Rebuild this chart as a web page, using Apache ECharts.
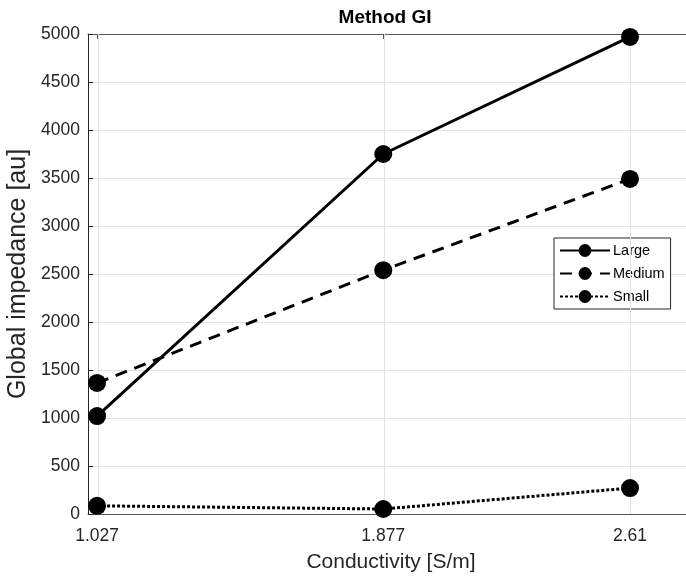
<!DOCTYPE html>
<html>
<head>
<meta charset="utf-8">
<script src="https://cdn.jsdelivr.net/npm/echarts@6/dist/echarts.min.js"></script>
<style>html,body{margin:0;padding:0;background:#fff}#c{width:686px;height:578px}</style>
</head>
<body>
<div id="c"></div>
<script>
const conductivity = [1.027, 1.877, 2.61];
const largeValues = [1020, 3750, 4970];
const mediumValues = [1365, 2540, 3490];
const smallValues = [85, 52, 270];
const seriesNames = ['Large', 'Medium', 'Small'];
const FONT = 'Liberation Sans, Arial, Helvetica, sans-serif';
const AX = '#262626';

const toPairs = vals => conductivity.map((x, i) => [x, vals[i]]);

const chart = echarts.init(document.getElementById('c'), null, {renderer: 'canvas'});
const lineSeries = (name, vals, type) => ({
  name, type: 'line', data: toPairs(vals), z: 5,
  symbol: 'circle', symbolSize: 18,
  itemStyle: {color: '#000'},
  lineStyle: {color: '#000', width: 3, type: type},
  animation: false
});
chart.setOption({
  animation: false,
  title: {
    text: 'Method GI', left: 380, top: 3, textAlign: 'center',
    textStyle: {fontFamily: FONT, fontSize: 19, fontWeight: 'bold', color: '#000'}
  },
  grid: {left: 88, top: 34, right: -8, bottom: 64, show: false, outerBoundsMode: 'none', containLabel: false},
  legend: {
    orient: 'vertical', left: 554, top: 238,
    data: seriesNames,
    backgroundColor: '#fff', borderColor: AX, borderWidth: 1,
    padding: [5, 6, 5, 5], itemGap: 8, itemWidth: 50, itemHeight: 16,
    textStyle: {fontFamily: FONT, fontSize: 14.5, color: '#000', padding: [0, 0, 0, -2]}
  },
  xAxis: [{
    type: 'value', min: 1, max: 2.8,
    name: 'Conductivity [S/m]', nameLocation: 'middle', nameGap: 38,
    nameTextStyle: {fontFamily: FONT, fontSize: 21, color: AX},
    axisLine: {show: true, lineStyle: {color: '#555', width: 1}},
    axisTick: {show: true, inside: true, length: 5, customValues: conductivity, lineStyle: {color: '#555'}},
    axisLabel: {customValues: conductivity, fontFamily: FONT, fontSize: 17.5, color: AX, margin: 13,
      formatter: v => String(v)},
    splitLine: {show: false}
  }, {
    type: 'value', min: 1, max: 2.8, position: 'top',
    axisLine: {show: true, onZero: false, lineStyle: {color: '#555', width: 1}},
    axisTick: {show: true, inside: true, length: 5, customValues: conductivity, lineStyle: {color: '#555'}},
    axisLabel: {show: false},
    splitLine: {show: false}
  }],
  yAxis: {
    type: 'value', min: 0, max: 5000, interval: 500,
    name: 'Global impedance [au]', nameLocation: 'middle', nameGap: 47,
    nameTextStyle: {fontFamily: FONT, fontSize: 25, color: AX},
    axisLine: {show: true, lineStyle: {color: AX, width: 1}},
    axisTick: {show: true, inside: true, length: 5, lineStyle: {color: AX}},
    axisLabel: {fontFamily: FONT, fontSize: 17.5, color: AX, margin: 8, formatter: v => String(v)},
    splitLine: {show: true, lineStyle: {color: '#e3e3e3', width: 1}}
  },
  series: [
    {
      name: 'grid', type: 'line', data: [], z: 1, silent: true,
      markLine: {
        silent: true, symbol: 'none', animation: false,
        label: {show: false},
        lineStyle: {color: '#e3e3e3', width: 1, type: 'solid'},
        data: conductivity.map(x => ({xAxis: x}))
      }
    },
    lineSeries('Large', largeValues, 'solid'),
    lineSeries('Medium', mediumValues, [12, 8]),
    lineSeries('Small', smallValues, [3, 2])
  ]
});
</script>
</body>
</html>
